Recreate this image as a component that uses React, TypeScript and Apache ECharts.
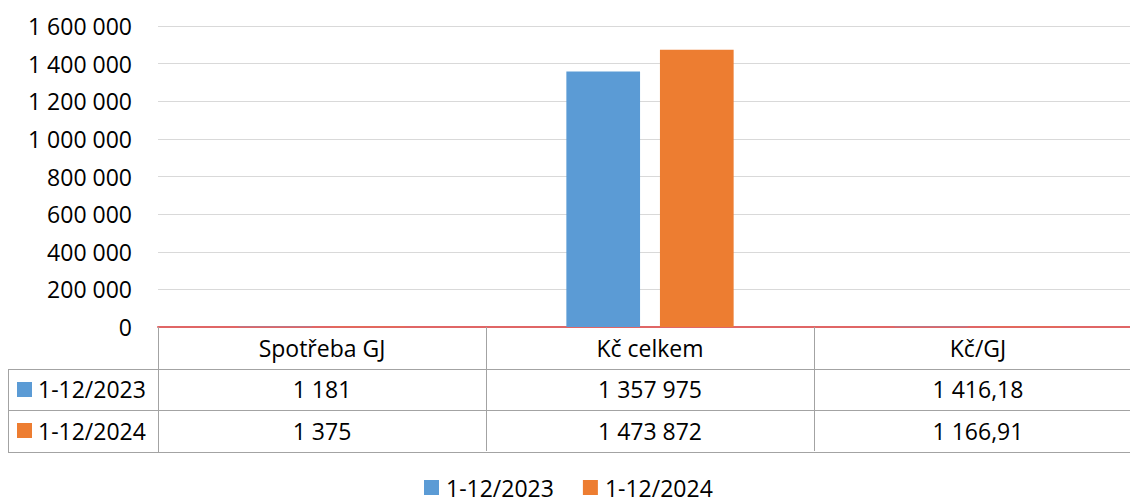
import React, { useEffect, useRef } from "react";
import * as echarts from "echarts";

const categories = ["Spotřeba GJ", "Kč celkem", "Kč/GJ"];
const seriesNames = ["1-12/2023", "1-12/2024"];
const values2023 = [1181, 1357975, 1416.18];
const values2024 = [1375, 1473872, 1166.91];
const tableDecimals = [0, 0, 2];
const yMin = 0;
const yMax = 1600000;
const yInterval = 200000;

const COLORS = ["#5B9BD5", "#ED7D31"];
const FONT = "'Open Sans', 'Noto Sans', sans-serif";
const FS = 23;
const GRID_COLOR = "#d9d9d9";
const TABLE_LINE = "#a3a3a3";
const AXIS_RED = "#e06666";

function fmt(v: number, decimals = 0): string {
  const s = v.toFixed(decimals);
  const [intPart, decPart] = s.split(".");
  const withSpaces = intPart.replace(/\B(?=(\d{3})+(?!\d))/g, " ");
  return decPart ? `${withSpaces},${decPart}` : withSpaces;
}

export default function App() {
  const ref = useRef<HTMLDivElement>(null);

  useEffect(() => {
    if (!ref.current) return;
    document.body.style.overflow = "hidden";
    const chart = echarts.init(ref.current, null, { renderer: "svg" });
    const allSeries = [values2023, values2024];

    chart.setOption({
      animation: false,
      backgroundColor: "#ffffff",
      textStyle: { fontFamily: FONT },
      grid: { left: 158, top: 26, right: 0, height: 301 },
      legend: {
        data: seriesNames,
        left: 424,
        top: 476,
        icon: "rect",
        itemWidth: 15,
        itemHeight: 15,
        itemGap: 29,
        padding: 0,
        textStyle: {
          fontSize: FS,
          lineHeight: 18,
          color: "#000",
          fontFamily: FONT,
          padding: [0, 0, 0, 2],
        },
      },
      xAxis: {
        type: "category",
        data: categories,
        axisLine: { show: true, lineStyle: { color: AXIS_RED, width: 2 } },
        axisTick: { show: true, length: 124, lineStyle: { color: TABLE_LINE, width: 1 } },
        axisLabel: {
          fontSize: FS,
          color: "#000",
          fontFamily: FONT,
          margin: 21,
          verticalAlign: "middle",
        },
        splitLine: { show: false },
      },
      yAxis: {
        type: "value",
        min: yMin,
        max: yMax,
        interval: yInterval,
        axisLine: { show: false },
        axisTick: { show: false },
        axisLabel: {
          fontSize: FS,
          color: "#000",
          fontFamily: FONT,
          margin: 26,
          formatter: (v: number) => fmt(v),
        },
        splitLine: { show: true, lineStyle: { color: GRID_COLOR, width: 1 } },
      },
      series: seriesNames.map((name, i) => ({
        name,
        type: "bar",
        data: allSeries[i],
        itemStyle: { color: COLORS[i] },
        barGap: "27%",
        barCategoryGap: "49%",
      })),
    });

    const y0 = chart.convertToPixel({ yAxisIndex: 0 }, 0) as number;
    const xs = categories.map((c) => chart.convertToPixel({ xAxisIndex: 0 }, c) as number);
    const band = xs.length > 1 ? xs[1] - xs[0] : 328;
    const tableLeft = 8;
    const plotLeft = xs[0] - band / 2;
    const tableRight = xs[xs.length - 1] + band / 2;
    const rowH = 41.5;
    const snap = (v: number) => Math.round(v) + 0.5;

    const elements: any[] = [];
    for (let r = 1; r <= 3; r++) {
      const y = snap(y0 + rowH * r);
      elements.push({
        type: "line",
        shape: { x1: tableLeft, y1: y, x2: tableRight, y2: y },
        style: { stroke: TABLE_LINE, lineWidth: 1 },
        silent: true,
      });
    }
    elements.push({
      type: "line",
      shape: { x1: snap(tableLeft), y1: snap(y0 + rowH), x2: snap(tableLeft), y2: snap(y0 + rowH * 3) },
      style: { stroke: TABLE_LINE, lineWidth: 1 },
      silent: true,
    });
    elements.push({
      type: "line",
      shape: { x1: snap(plotLeft - 0.5), y1: y0, x2: snap(plotLeft - 0.5), y2: snap(y0 + rowH * 3) },
      style: { stroke: TABLE_LINE, lineWidth: 1 },
      silent: true,
    });

    seriesNames.forEach((name, s) => {
      const cy = y0 + rowH * (s + 1.5);
      elements.push({
        type: "rect",
        shape: { x: 17, y: Math.round(cy - 7.5), width: 15, height: 15 },
        style: { fill: COLORS[s] },
        silent: true,
      });
      elements.push({
        type: "text",
        x: 38,
        y: cy,
        style: {
          text: name,
          fontSize: FS,
          fontFamily: FONT,
          fill: "#000",
          align: "left",
          verticalAlign: "middle",
        },
        silent: true,
      });
      allSeries[s].forEach((v, i) => {
        elements.push({
          type: "text",
          x: xs[i],
          y: cy,
          style: {
            text: fmt(v, tableDecimals[i]),
            fontSize: FS,
            fontFamily: FONT,
            fill: "#000",
            align: "center",
            verticalAlign: "middle",
          },
          silent: true,
        });
      });
    });

    chart.setOption({ graphic: { elements } });

    return () => chart.dispose();
  }, []);

  return (
    <div
      ref={ref}
      style={{ position: "fixed", left: 0, top: 0, width: 1142, height: 498, background: "#fff" }}
    />
  );
}
